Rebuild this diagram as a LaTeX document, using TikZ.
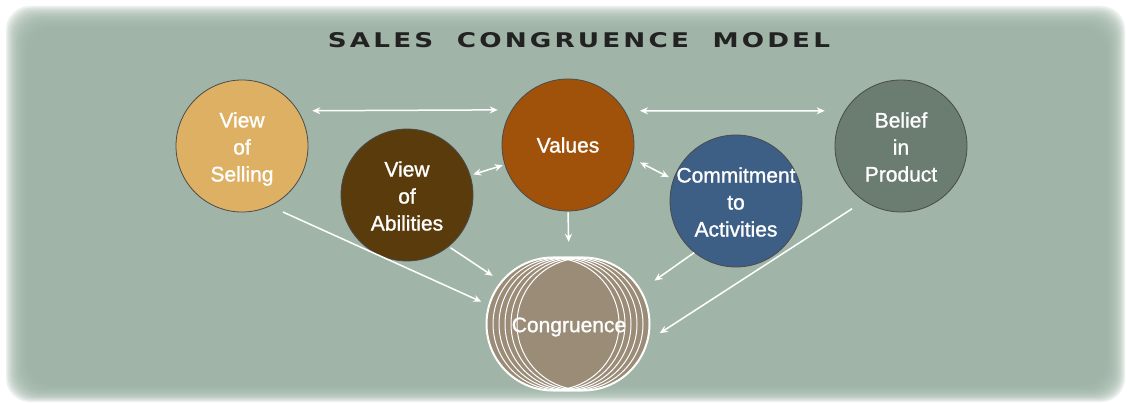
\documentclass[tikz,border=0pt]{standalone}
\usepackage{graphicx}
\usepackage{fontspec}
\setmainfont{Liberation Sans}
\newfontfamily\labfont[FakeBold=1.2]{Liberation Sans}
\newfontfamily\titlefont[LetterSpace=12]{DejaVu Sans Bold}
\usetikzlibrary{arrows.meta,shapes.geometric}
\definecolor{bgc}{HTML}{9DB3A6}
\definecolor{sellc}{HTML}{DEB063}
\definecolor{valc}{HTML}{A0520B}
\definecolor{abilc}{HTML}{5A3B0C}
\definecolor{commc}{HTML}{3D5E85}
\definecolor{belc}{HTML}{6B7C71}
\definecolor{congc}{HTML}{9A8C77}
\definecolor{rimc}{HTML}{4A4A4A}
\tikzset{
  circ/.style={circle, draw=rimc, line width=0.8pt, minimum size=132pt, inner sep=0pt},
  lab/.style={text=white, align=center, font=\labfont\fontsize{21}{27}\selectfont},
  arr/.style={draw=white, line width=1.5pt, -{Stealth[length=8pt,width=7pt]}},
  darr/.style={draw=white, line width=1.5pt, {Stealth[length=8pt,width=7pt]}-{Stealth[length=8pt,width=7pt]}},
}
\begin{document}
\begin{tikzpicture}[x=1pt,y=-1pt]
\useasboundingbox (0,0) rectangle (1127,403);
\fill[white] (0,0) rectangle (1127,403);
% soft-edged background
\foreach \i in {0,...,13}{
  \fill[bgc, opacity=0.2, rounded corners=24pt] (6+1.7*\i,6+1.7*\i) rectangle (1125-1.5*\i,402-1.3*\i);
}
% title
\node (title) at (579,40) {\resizebox{502pt}{15pt}{\color[HTML]{222222}\titlefont SALES\hspace{0.9em}CONGRUENCE\hspace{0.9em}MODEL}};
% circles
\node[circ, fill=sellc, label={[lab, yshift=-3pt]center:View\\of\\Selling}] (sell) at (242,146) {};
\node[circ, fill=valc, label={[lab]center:Values}] (val) at (568,145) {};
\node[circ, fill=abilc, label={[lab, yshift=-1pt]center:View\\of\\Abilities}] (abil) at (407,195) {};
\node[circ, fill=commc, label={[lab, yshift=-1pt]center:Commitment\\to\\Activities}] (comm) at (736,201) {};
\node[circ, fill=belc, label={[lab, yshift=-1pt]center:Belief\\in\\Product}] (bel) at (901,146) {};
% congruence stack
\foreach \cx in {553,559,565,571,577,583}{
  \draw[white, line width=3pt] (\cx,324) circle (66pt);
}
\foreach \cx in {553,559,565,571,577,583}{
  \fill[congc] (\cx,324) circle (66pt);
}
\foreach \cx in {553,559,565,571,577,583}{
  \draw[white, line width=1pt] (\cx,324) circle (66pt);
}
\node[ellipse, minimum width=163pt, minimum height=132pt, inner sep=0pt,
  label={[lab, yshift=-3pt]center:Congruence}] (cong) at (569,324) {};
% connectors
\draw[darr, shorten <=14pt, shorten >=14pt] (sell.32) -- (val.148);
\draw[darr, shorten <=15pt, shorten >=20pt] (val.31) -- (bel.148);
\draw[darr, shorten <=3pt, shorten >=2pt] (abil) -- (val);
\draw[darr, shorten <=8pt, shorten >=5pt] (val.-12) -- (comm.161);
\draw[arr, shorten <=1pt, shorten >=16pt] (val.south) -- (cong.north);
\draw[arr, shorten <=14pt, shorten >=10pt] (sell.-65) -- (cong.167);
\draw[arr, shorten <=2pt, shorten >=14pt] (abil.-51) -- (cong.148);
\draw[arr, shorten <=0pt, shorten >=18pt] (comm.231) -- (cong.25);
\draw[arr, shorten <=14pt, shorten >=14pt] (bel.236) -- (cong.-12);
\end{tikzpicture}
\end{document}
